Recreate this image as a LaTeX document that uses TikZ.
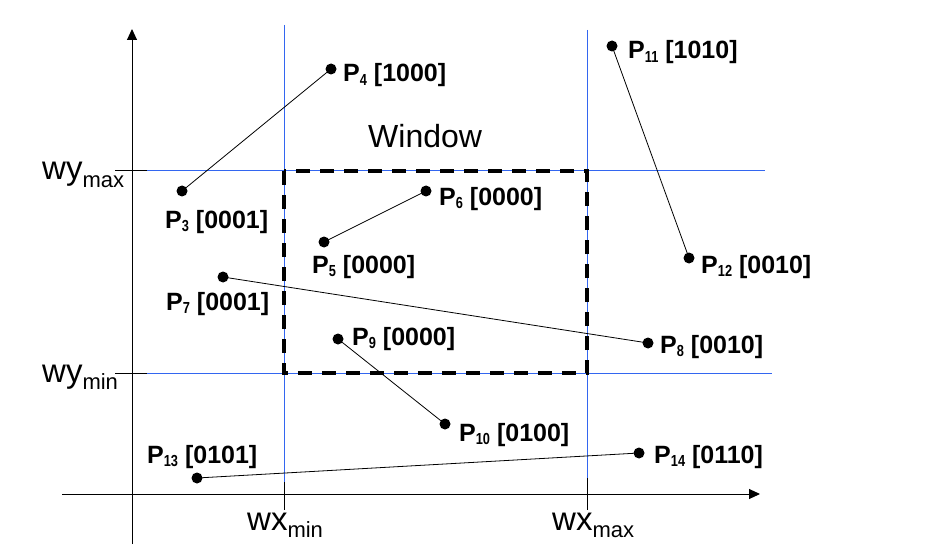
\documentclass[tikz,border=0pt]{standalone}
\usepackage{fontspec}
\setmainfont{Liberation Sans}
\newfontfamily\subfont[FakeStretch=0.8]{Liberation Sans}
\usetikzlibrary{arrows.meta}
\definecolor{gridblue}{RGB}{51,102,240}
\newcommand{\Psub}[1]{\raisebox{-3.5pt}{\subfont\bfseries\fontsize{16}{16}\selectfont #1}}
\newcommand{\Wsub}[1]{\raisebox{-7pt}{\fontsize{22}{22}\selectfont #1}}
\begin{document}
\begin{tikzpicture}[x=1pt,y=-1pt,
  dot/.style={circle,fill=black,inner sep=0pt,minimum size=11pt},
  plabel/.style={anchor=base west,inner sep=0pt,font=\bfseries\fontsize{25}{25}\selectfont},
  wlabel/.style={anchor=base west,inner sep=0pt,font=\fontsize{33}{33}\selectfont},
  gridline/.style={gridblue,line width=1pt},
  tickline/.style={black,line width=1pt},
  seg/.style={black,line width=0.8pt},
  axis/.style={black,line width=1pt,-{Triangle[length=11pt,width=10pt]}},
  window/.style={black,line width=4.5pt,dash pattern=on 14pt off 10pt}
]
\useasboundingbox (0,0) rectangle (947,556);
\fill[white] (0,0) rectangle (947,556);

% axes
\coordinate (yb) at (132,544);
\coordinate (yt) at (132,29);
\coordinate (xl) at (62,494);
\coordinate (xr) at (760,494);
\draw[axis] (yb) -- (yt);
\draw[axis] (xl) -- (xr);

% window boundary lines
\draw[gridline] (147,171) -- (765,171);
\draw[gridline] (147,373) -- (772,373);
\draw[tickline] (115,171) -- (147,171);
\draw[tickline] (115,373) -- (147,373);
\draw[gridline] (284,25) -- (284,482);
\draw[gridline] (587,30) -- (587,478);
\draw[tickline] (284,482) -- (284,510);
\draw[tickline] (587,478) -- (587,510);

% window rectangle
\draw[window] (284,171) rectangle (587,373);

% points
\node[dot] (p3) at (182,191) {};
\node[dot] (p4) at (331,69) {};
\node[dot] (p5) at (324,242) {};
\node[dot] (p6) at (426,191) {};
\node[dot] (p7) at (223,277) {};
\node[dot] (p8) at (648,343) {};
\node[dot] (p9) at (338,339) {};
\node[dot] (p10) at (445,424) {};
\node[dot] (p11) at (612,46) {};
\node[dot] (p12) at (689,258) {};
\node[dot] (p13) at (197,478) {};
\node[dot] (p14) at (639,453) {};

% segments
\draw[seg] (p3.center) -- (p4.center);
\draw[seg] (p5.center) -- (p6.center);
\draw[seg] (p7.center) -- (p8.center);
\draw[seg] (p9.center) -- (p10.center);
\draw[seg] (p11.center) -- (p12.center);
\draw[seg] (p13.center) -- (p14.center);

% point labels
\node[plabel] (l3) at (165,228) {P\Psub{3} [0001]};
\node[plabel] (l4) at (343,82) {P\Psub{4} [1000]};
\node[plabel] (l5) at (312,273) {P\Psub{5} [0000]};
\node[plabel] (l6) at (439,205) {P\Psub{6} [0000]};
\node[plabel] (l7) at (166,310) {P\Psub{7} [0001]};
\node[plabel] (l8) at (660,353) {P\Psub{8} [0010]};
\node[plabel] (l9) at (352,345) {P\Psub{9} [0000]};
\node[plabel] (l10) at (459,441) {P\Psub{10} [0100]};
\node[plabel] (l11) at (628,59) {P\Psub{11} [1010]};
\node[plabel] (l12) at (701,273) {P\Psub{12} [0010]};
\node[plabel] (l13) at (147,463) {P\Psub{13} [0101]};
\node[plabel] (l14) at (654,463) {P\Psub{14} [0110]};

% other labels
\node[wlabel,font=\fontsize{32}{32}\selectfont] (win) at (368,148) {Window};
\node[wlabel] (wymax) at (42,180) {wy\Wsub{max}};
\node[wlabel] (wymin) at (42,382) {wy\Wsub{min}};
\node[wlabel] (wxmin) at (247,530) {wx\Wsub{min}};
\node[wlabel] (wxmax) at (552,530) {wx\Wsub{max}};
\end{tikzpicture}
\end{document}
